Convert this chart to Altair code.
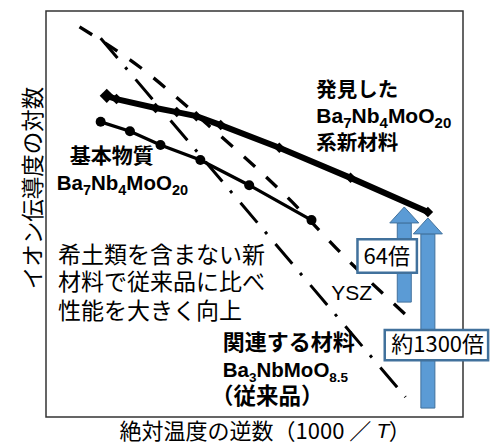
import altair as alt
import pandas as pd

# Arrhenius plot: x = 1000/T, y = log(ionic conductivity), arbitrary units
new_x = [1.37, 1.61, 2.57, 3.09, 3.57, 4.17, 5.61, 7.36, 9.26]
new_y = [7.91, 7.83, 7.61, 7.51, 7.41, 7.19, 6.63, 5.89, 5.05]

base_x = [1.22, 1.94, 2.69, 3.67, 4.87, 6.40]
base_y = [7.27, 7.04, 6.70, 6.33, 5.71, 4.85]

ysz_x = [0.70, 2.18, 3.77, 5.80, 7.29, 8.78]
ysz_y = [9.61, 8.62, 7.27, 5.42, 3.87, 2.46]

old_x = [1.22, 8.71]
old_y = [9.33, 0.49]

# improvement arrows (shaft bottom, head base) and their ratio labels
arrow_x = [8.68, 9.26]
arrow_bottom = [2.83, 0.22]
arrow_head = [4.78, 4.51]
ratio_text = ["64倍", "約1300倍"]
ratio_x = [8.25, 9.50]
ratio_y = [3.94, 1.77]
box_x0 = [7.53, 8.20]
box_x1 = [8.99, 10.74]
box_y0 = [3.55, 1.40]
box_y1 = [4.38, 2.14]

JP = "Noto Sans CJK JP"
LAT = "Liberation Sans"
BLUE = "#5B9BD5"
BLUE_EDGE = "#41719C"

xs = alt.Scale(domain=[0, 10], nice=False, zero=False)
ys = alt.Scale(domain=[0, 10], nice=False, zero=False)


def X(f="x"):
    return alt.X(f"{f}:Q", scale=xs, axis=None)


def Y(f="y"):
    return alt.Y(f"{f}:Q", scale=ys, axis=None)


def series(xv, yv):
    return pd.DataFrame({"x": xv, "y": yv})


ysz = alt.Chart(series(ysz_x, ysz_y)).mark_line(
    color="black", strokeWidth=3.3, strokeDash=[15, 15], interpolate="monotone"
).encode(x=X(), y=Y())

old = alt.Chart(series(old_x, old_y)).mark_line(
    color="black", strokeWidth=3, strokeDash=[26, 12, 3, 13]
).encode(x=X(), y=Y())

base_line = alt.Chart(series(base_x, base_y)).mark_line(
    color="black", strokeWidth=3.3
).encode(x=X(), y=Y())
base_pts = alt.Chart(series(base_x, base_y)).mark_point(
    shape="circle", filled=True, color="black", size=100, opacity=1
).encode(x=X(), y=Y())

new_line = alt.Chart(series(new_x, new_y)).mark_line(
    color="black", strokeWidth=6
).encode(x=X(), y=Y())
new_pts = alt.Chart(series(new_x, new_y)).mark_point(
    shape="diamond", filled=True, color="black", size=110, opacity=1
).encode(x=X(), y=Y())
# the first measurement is drawn with a larger marker
new_first = alt.Chart(series(new_x[:1], new_y[:1])).mark_point(
    shape="diamond", filled=True, color="black", size=200, opacity=1
).encode(x=X(), y=Y())

arrows = pd.DataFrame({"x": arrow_x, "y": arrow_bottom, "y2": arrow_head})
shafts = alt.Chart(arrows).mark_bar(
    size=14, color=BLUE, stroke=BLUE_EDGE, strokeWidth=1
).encode(x=X(), y=Y(), y2="y2:Q")
heads = alt.Chart(arrows).mark_point(
    shape="M-0.48,0L-1,0L0,-1.1L1,0L0.48,0Z",
    size=841, filled=True, color=BLUE, stroke=BLUE_EDGE, strokeWidth=1, opacity=1
).encode(x=X(), y=Y("y2"))

boxes = alt.Chart(pd.DataFrame({"x": box_x0, "x2": box_x1, "y": box_y0, "y2": box_y1})).mark_rect(
    fill="white", stroke=BLUE_EDGE, strokeWidth=2.5
).encode(x=X(), x2="x2:Q", y=Y(), y2="y2:Q")
ratios = alt.Chart(pd.DataFrame({"x": ratio_x, "y": ratio_y, "t": ratio_text})).mark_text(
    font=JP, fontSize=22, align="center", baseline="middle", color="black"
).encode(x=X(), y=Y(), text="t:N")


def labels(rows, weight, align="left", font=JP):
    df = pd.DataFrame(rows, columns=["t", "x", "y", "fs"])
    return alt.Chart(df).mark_text(
        font=font, fontWeight=weight, align=align, baseline="middle", color="black"
    ).encode(x=X(), y=Y(), text="t:N", size=alt.Size("fs:Q", scale=None, legend=None))


bold_jp = labels([
    ["発見した", 6.52, 8.03, 20.5],
    ["系新材料", 6.52, 6.72, 20.5],
    ["基本物質", 0.46, 6.40, 21],
    ["関連する材料", 4.22, 1.82, 22],
    ["（従来品）", 3.93, 0.49, 22.5],
], "bold")

plain_jp = labels([
    ["希土類を含まない新", 0.17, 3.97, 23],
    ["材料で従来品に比べ", 0.17, 3.30, 23],
    ["性能を大きく向上", 0.17, 2.59, 23],
], "normal")

ysz_label = labels([["YSZ", 7.39, 3.03, 21]], "normal", align="center", font=LAT)

# chemical formulas with subscripts, laid out piece by piece
BOLD_W = {"B": 722, "a": 556, "N": 722, "b": 611, "M": 833, "o": 611, "O": 778, ".": 278}


def text_width(s, fs):
    return sum(BOLD_W.get(c, 556) for c in s) * fs / 1000


def formula(parts, x, y, fs, sub_fs):
    layers = []
    off = 0.0
    for txt, is_sub in parts:
        size = sub_fs if is_sub else fs
        layers.append(
            alt.Chart(pd.DataFrame({"x": [x], "y": [y], "t": [txt]})).mark_text(
                font=LAT, fontWeight="bold", fontSize=size, align="left",
                baseline="alphabetic", dx=off, dy=5 if is_sub else 0, color="black"
            ).encode(x=X(), y=Y(), text="t:N")
        )
        off += text_width(txt, size)
    return layers


ba7 = [("Ba", 0), ("7", 1), ("Nb", 0), ("4", 1), ("MoO", 0), ("20", 1)]
ba3 = [("Ba", 0), ("3", 1), ("NbMoO", 0), ("8.5", 1)]

formulas = (
    formula(ba7, 6.52, 7.24, 21, 15)
    + formula(ba7, 0.14, 5.59, 20.5, 14.5)
    + formula(ba3, 4.22, 0.99, 20.5, 13.5)
)

# axis titles
y_title = alt.Chart(pd.DataFrame({"x": [-0.42], "y": [5.64], "t": ["イオン伝導度の対数"]})).mark_text(
    font=JP, fontSize=22.5, angle=270, align="center", baseline="middle", color="black"
).encode(x=X(), y=Y(), text="t:N")

x_title_a = alt.Chart(pd.DataFrame({"x": [7.87], "y": [-0.36], "t": ["絶対温度の逆数（1000 ／"]})).mark_text(
    font=JP, fontSize=22, align="right", baseline="middle", color="black"
).encode(x=X(), y=Y(), text="t:N")
x_title_t = alt.Chart(pd.DataFrame({"x": [8.00], "y": [-0.36], "t": ["T"]})).mark_text(
    font=LAT, fontSize=21, fontStyle="italic", align="left", baseline="middle", color="black"
).encode(x=X(), y=Y(), text="t:N")
x_title_c = alt.Chart(pd.DataFrame({"x": [8.30], "y": [-0.36], "t": ["）"]})).mark_text(
    font=JP, fontSize=22, align="left", baseline="middle", color="black"
).encode(x=X(), y=Y(), text="t:N")

chart = alt.layer(
    ysz, old, base_line, base_pts, new_line, new_pts, new_first,
    shafts, heads, boxes, ratios,
    bold_jp, plain_jp, ysz_label, *formulas,
    y_title, x_title_a, x_title_t, x_title_c,
).properties(
    width=417,
    height=406,
    padding={"left": 46, "top": 11, "right": 32, "bottom": 26},
    autosize=alt.AutoSizeParams(type="none"),
    background="white",
).configure_view(
    stroke="#333333", strokeWidth=1.5
)

chart.save("out.html", embed_options={"renderer": "svg", "actions": False})
